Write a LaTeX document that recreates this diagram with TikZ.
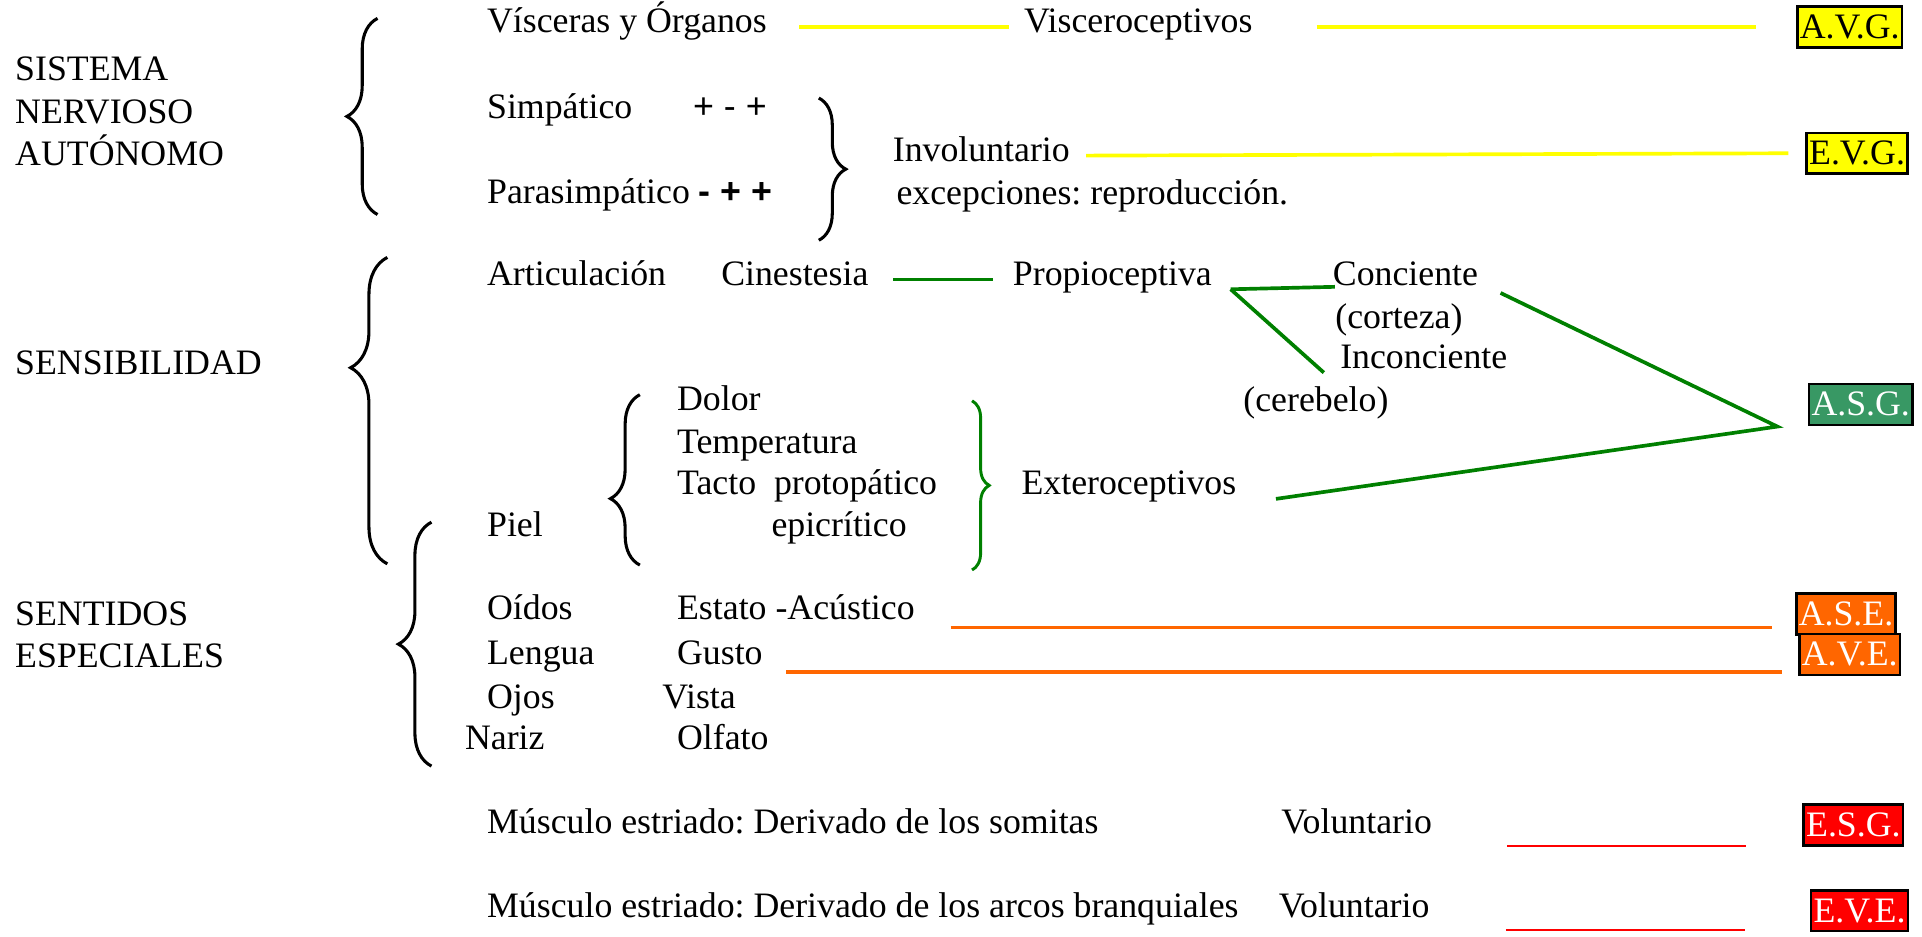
\documentclass[tikz,border=0pt]{standalone}
\usepackage{fontspec}
\setmainfont{Liberation Serif}
\setsansfont{Liberation Sans}
\usetikzlibrary{decorations.pathreplacing}
\definecolor{ylw}{RGB}{255,255,0}
\definecolor{grn}{RGB}{0,128,0}
\definecolor{asgfill}{RGB}{56,152,100}
\definecolor{orng}{RGB}{255,102,0}
\definecolor{rd}{RGB}{255,0,0}
\frenchspacing
\begin{document}
\begin{tikzpicture}[x=0.5pt, y=-0.5pt,
  every node/.style={font=\fontsize{14.6}{17.3}\selectfont},
  txt/.style={anchor=west, inner sep=0pt, text height=6.8pt, text depth=2pt},
  head/.style={anchor=west, inner sep=0pt, align=left},
  tag/.style={draw=black, line width=1pt, inner xsep=1pt, inner ysep=2.5pt, text height=10.5pt, text depth=1.2pt},
  brc/.style={decorate, decoration={brace, amplitude=#1}, line width=1.25pt},
  ylwline/.style={draw=ylw, line width=1.5pt},
  grnline/.style={draw=grn, line width=1.5pt},
  orline/.style={draw=orng, line width=1.5pt},
  rdline/.style={draw=rd, line width=0.8pt}]
\useasboundingbox (0,0) rectangle (1568,764);
% left headings
\node[head] (sna) at (12,91) {SISTEMA\\NERVIOSO\\AUTÓNOMO};
\node[head] (sens) at (12,296) {SENSIBILIDAD};
\node[head] (sent) at (12,518) {SENTIDOS\\ESPECIALES};
% autonomo
\node[txt] (vis) at (397,22) {Vísceras y Órganos};
\node[txt] (visc) at (835,22) {Visceroceptivos};
\node[txt] (simp) at (397,92) {Simpático\hspace{1.7em}{\sffamily + - +}};
\node[txt] (para) at (397,161) {Parasimpático {\sffamily\bfseries - + +}};
\node[txt] (inv) at (728,127) {Involuntario};
\node[txt] (exc) at (731,162) {excepciones: reproducción.};
\node[tag, fill=ylw] (avg) at (1509,22) {A.V.G.};
\node[tag, fill=ylw] (evg) at (1515,125) {E.V.G.};
\draw[brc=12.5pt] (308,175) -- (308,15);
\draw[brc=11pt] (668,80) -- (668,196);
\draw[ylwline, shorten <=13pt, shorten >=6pt] (vis.east) -- (visc.west);
\draw[ylwline, shorten <=26pt, shorten >=16.5pt] (visc.east) -- (avg.west);
\draw[ylwline, shorten <=6.5pt, shorten >=7pt] (inv.east) -- (evg.west);
% sensibilidad
\node[txt] (art) at (397,228) {Articulación};
\node[txt] (cin) at (588,228) {Cinestesia};
\node[txt] (prop) at (826,228) {Propioceptiva};
\node[txt] (conc) at (1087,228) {Conciente};
\node[txt] (cort) at (1089,263) {(corteza)};
\node[txt] (incon) at (1093,296) {Inconciente};
\node[txt] (cereb) at (1014,331) {(cerebelo)};
\node[txt] (dolor) at (552,330) {Dolor};
\node[txt] (temp) at (552,365) {Temperatura};
\node[txt] (tacto) at (552,399) {Tacto\ \ protopático};
\node[txt] (epic) at (629,433) {epicrítico};
\node[txt] (ext) at (833,399) {Exteroceptivos};
\node[txt] (piel) at (397,433) {Piel};
\node[tag, fill=asgfill, text=white] (asg) at (1518,330) {A.S.G.};
\draw[brc=15pt, decoration={aspect=0.64}] (316,460) -- (316,210);
\draw[brc=12pt, decoration={aspect=0.39}] (522,461) -- (522,322);
\draw[brc=7pt, draw=grn, line width=1.2pt] (793,327) -- (793,465);
\coordinate (fork) at (1004,236);
\coordinate (join) at (1450,348);
\draw[grnline, shorten <=10pt, shorten >=8pt] (cin.east) -- (prop.west);
\draw[grnline] (fork) -- ([shift={(2,6)}]conc.west);
\draw[grnline] (fork) -- ([shift={(-13,8)}]incon.west);
\draw[grnline] ([shift={(18,11)}]conc.east) -- (join) -- ([shift={(32,8)}]ext.east);
% sentidos especiales
\node[txt] (oidos) at (397,501) {Oídos};
\node[txt] (est) at (552,501) {Estato -Acústico};
\node[txt] (lengua) at (397,537) {Lengua};
\node[txt] (gusto) at (552,537) {Gusto};
\node[txt] (ojos) at (397,573) {Ojos};
\node[txt] (vista) at (540,573) {Vista};
\node[txt] (nariz) at (379,607) {Nariz};
\node[txt] (olfato) at (552,607) {Olfato};
\node[tag, fill=orng, text=white] (ase) at (1506,501) {A.S.E.};
\node[tag, fill=orng, text=white] (ave) at (1509,534) {A.V.E.};
\draw[brc=13.5pt] (352,625) -- (352,426);
\draw[orline] ([shift={(29,11)}]est.east) -- ([shift={(-19,11)}]ase.west);
\draw[orline] ([shift={(19,11)}]gusto.east) -- ([shift={(-13,14)}]ave.west);
% musculo estriado
\node[txt] (mus1) at (397,675) {Músculo estriado: Derivado de los somitas};
\node[txt] (vol1) at (1045,675) {Voluntario};
\node[txt] (mus2) at (397,744) {Músculo estriado: Derivado de los arcos branquiales};
\node[txt] (vol2) at (1043,744) {Voluntario};
\node[tag, fill=rd, text=white] (esg) at (1512,673) {E.S.G.};
\node[tag, fill=rd, text=white] (eve) at (1517,743) {E.V.E.};
\draw[rdline] ([shift={(61,15)}]vol1.east) -- ([shift={(-46,17)}]esg.west);
\draw[rdline] ([shift={(62,15)}]vol2.east) -- ([shift={(-53,16)}]eve.west);
\end{tikzpicture}
\end{document}
